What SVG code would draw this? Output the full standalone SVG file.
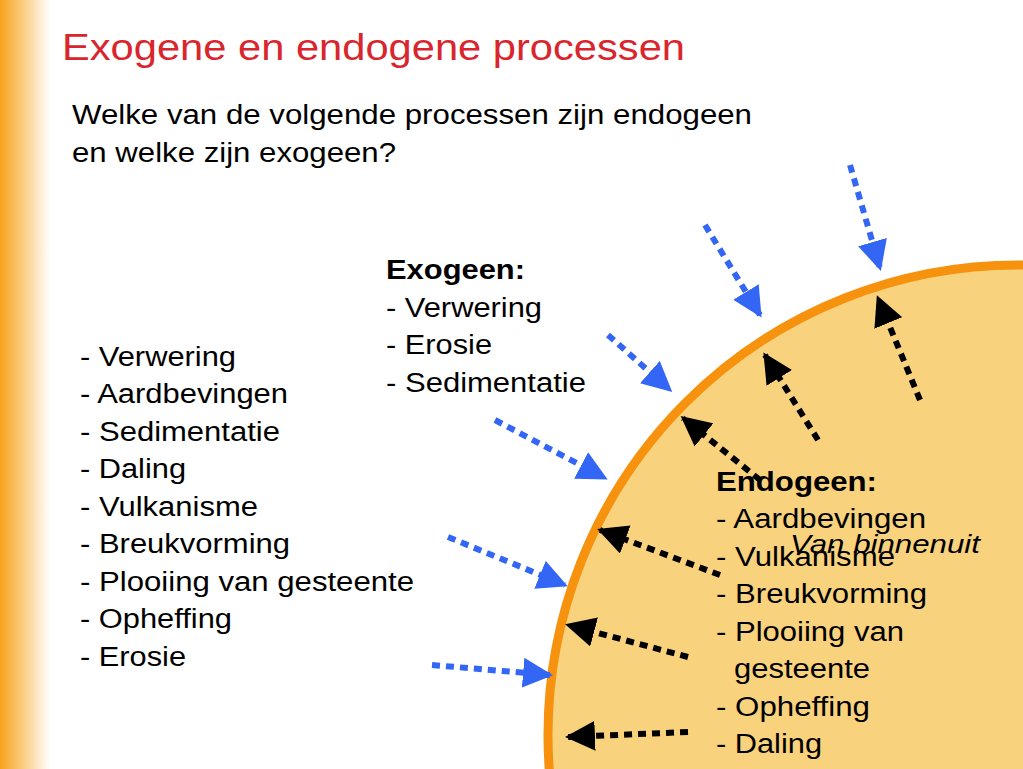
<svg xmlns="http://www.w3.org/2000/svg" width="1023" height="769" viewBox="0 0 1023 769">
<defs>
<linearGradient id="band" x1="0" x2="1" y1="0" y2="0">
<stop offset="0" stop-color="#F7A21B"/><stop offset="0.5" stop-color="#FBD08A"/><stop offset="1" stop-color="#FFFFFF"/>
</linearGradient>
<marker id="hb" viewBox="0 0 10 10" refX="9" refY="5" markerWidth="5" markerHeight="5" orient="auto" markerUnits="strokeWidth"><path d="M0,0L10,5L0,10z" fill="#3366F5"/></marker>
<marker id="hk" viewBox="0 0 10 10" refX="9" refY="5" markerWidth="5" markerHeight="5" orient="auto" markerUnits="strokeWidth"><path d="M0,0L10,5L0,10z" fill="#000"/></marker>
</defs>
<style>
text{font-family:"Liberation Sans",Arial,sans-serif;font-size:27px;fill:#000}
.b{stroke:#3366F5;stroke-width:6;stroke-dasharray:8 6;marker-end:url(#hb);fill:none}
.k{stroke:#000;stroke-width:6;stroke-dasharray:8 6;marker-end:url(#hk);fill:none}
</style>
<rect width="1023" height="769" fill="#fff"/>
<rect x="0" y="0" width="50" height="769" fill="url(#band)"/>
<g id="earth"><circle cx="1018" cy="735" r="470" fill="#F9D27E" stroke="#F7920F" stroke-width="9"/></g>
<text x="62" y="60" textLength="623" lengthAdjust="spacingAndGlyphs" style="font-size:36px;fill:#D9262E">Exogene en endogene processen</text>
<text x="72" y="124" textLength="680" lengthAdjust="spacingAndGlyphs">Welke van de volgende processen zijn endogeen</text>
<text x="72" y="162" textLength="324" lengthAdjust="spacingAndGlyphs">en welke zijn exogeen?</text>
<g id="list">
<text x="80" y="366" textLength="156" lengthAdjust="spacingAndGlyphs">- Verwering</text>
<text x="80" y="403" textLength="208" lengthAdjust="spacingAndGlyphs">- Aardbevingen</text>
<text x="80" y="441" textLength="200" lengthAdjust="spacingAndGlyphs">- Sedimentatie</text>
<text x="80" y="478" textLength="106" lengthAdjust="spacingAndGlyphs">- Daling</text>
<text x="80" y="516" textLength="178" lengthAdjust="spacingAndGlyphs">- Vulkanisme</text>
<text x="80" y="553" textLength="210" lengthAdjust="spacingAndGlyphs">- Breukvorming</text>
<text x="80" y="591" textLength="334" lengthAdjust="spacingAndGlyphs">- Plooiing van gesteente</text>
<text x="80" y="628" textLength="152" lengthAdjust="spacingAndGlyphs">- Opheffing</text>
<text x="80" y="666" textLength="106" lengthAdjust="spacingAndGlyphs">- Erosie</text>
</g>
<g id="exogeen">
<rect x="378" y="250" width="228" height="150" fill="#fff"/>
<text x="386" y="279" textLength="139" lengthAdjust="spacingAndGlyphs" style="font-weight:bold">Exogeen:</text>
<text x="386" y="317" textLength="156" lengthAdjust="spacingAndGlyphs">- Verwering</text>
<text x="386" y="354" textLength="106" lengthAdjust="spacingAndGlyphs">- Erosie</text>
<text x="386" y="392" textLength="200" lengthAdjust="spacingAndGlyphs">- Sedimentatie</text>
</g>
<g id="connectors">
<line class="b" x1="850" y1="165" x2="880" y2="268"/>
<line class="b" x1="705" y1="225" x2="760" y2="315"/>
<line class="b" x1="608" y1="335" x2="670" y2="390"/>
<line class="b" x1="495" y1="420" x2="605" y2="478"/>
<line class="b" x1="448" y1="537" x2="565" y2="585"/>
<line class="b" x1="432" y1="665" x2="550" y2="675"/>
<line class="k" x1="920" y1="400" x2="878" y2="298"/>
<line class="k" x1="818" y1="440" x2="765" y2="355"/>
<line class="k" x1="760" y1="480" x2="683" y2="418"/>
<line class="k" x1="720" y1="575" x2="600" y2="530"/>
<line class="k" x1="688" y1="657" x2="568" y2="625"/>
<line class="k" x1="688" y1="732" x2="568" y2="737"/>
</g>
<g id="endogeen">
<text x="716" y="491" textLength="161" lengthAdjust="spacingAndGlyphs" style="font-weight:bold">Endogeen:</text>
<text x="716" y="528" textLength="210" lengthAdjust="spacingAndGlyphs">- Aardbevingen</text>
<text x="716" y="566" textLength="179" lengthAdjust="spacingAndGlyphs">- Vulkanisme</text>
<text x="716" y="603" textLength="211" lengthAdjust="spacingAndGlyphs">- Breukvorming</text>
<text x="716" y="641" textLength="188" lengthAdjust="spacingAndGlyphs">- Plooiing van</text>
<text x="734" y="678" textLength="136" lengthAdjust="spacingAndGlyphs">gesteente</text>
<text x="716" y="716" textLength="154" lengthAdjust="spacingAndGlyphs">- Opheffing</text>
<text x="716" y="753" textLength="106" lengthAdjust="spacingAndGlyphs">- Daling</text>
<text x="790" y="553" textLength="190" lengthAdjust="spacingAndGlyphs" style="font-style:italic;font-size:25px">Van binnenuit</text>
</g>
</svg>
